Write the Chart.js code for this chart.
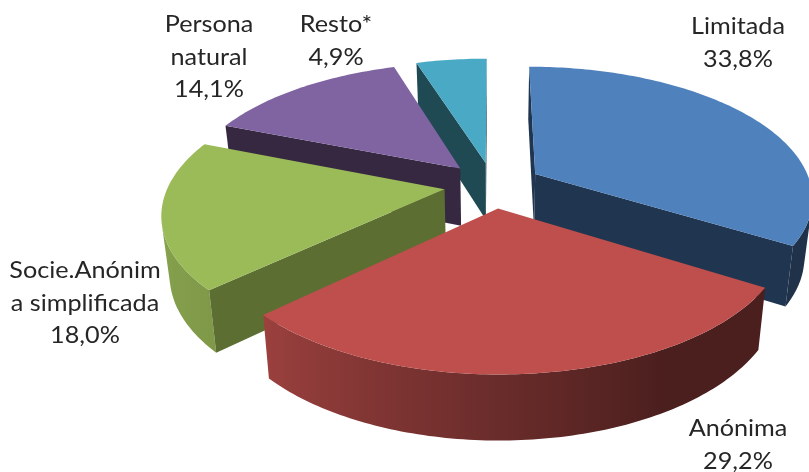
<!DOCTYPE html>
<html>
<head>
<meta charset="utf-8">
<style>html,body{margin:0;padding:0;background:#fff;overflow:hidden}canvas{display:block}</style>
<script src="https://cdn.jsdelivr.net/npm/chart.js@4"></script>
</head>
<body>
<canvas id="c" width="809" height="472"></canvas>
<script>
const categories = ['Limitada', 'Anónima', 'Socie.Anónima simplificada', 'Persona natural', 'Resto*'];
const labelLines = [['Limitada'], ['Anónima'], ['Socie.Anónim', 'a simplificada'], ['Persona', 'natural'], ['Resto*']];
const values = [33.8, 29.2, 18.0, 14.1, 4.9];
const topColors = ['#4F81BD', '#BE4F4C', '#9BBB59', '#8064A2', '#4AAAC5'];
const sideColors = ['#1F3550', '#4B1E1C', '#5D6E33', '#352840', '#1F4A54'];
const drawOrder = [4, 3, 0, 2, 1];

const labelAnchors = [[738, 34], [738, 436], [85, 278], [209, 32], [336, 32]];
const view = {cx: 493, cy: 185, radius: 276, tilt: 0.467, persp: 0.000614, lineH: 32.5};

function hexRgb(h){return [1,3,5].map(i=>parseInt(h.substr(i,2),16));}
function shadeFor(deg){
  if (deg <= 150) return 0.39;
  if (deg <= 227) return 0.39 + 0.43 * (deg - 150) / 77;
  if (deg <= 270) return 0.82 + 0.08 * (deg - 227) / 43;
  return 0.9;
}
function area(p){let s=0;for(let i=0;i<p.length;i++){const a=p[i],b=p[(i+1)%p.length];s+=a[0]*b[1]-b[0]*a[1];}return s;}
function poly(ctx,p,color){
  ctx.beginPath();p.forEach((q,i)=>i?ctx.lineTo(q[0],q[1]):ctx.moveTo(q[0],q[1]));ctx.closePath();
  ctx.fillStyle=color;ctx.fill();
}

const pie3d = {
  id: 'pie3d',
  beforeDatasetsDraw(chart){
    const ctx = chart.ctx;
    const arcs = chart.getDatasetMeta(0).data;
    const project = (u,v)=>{const w=1/(1-view.persp*v);return [view.cx+u*w, view.cy+view.tilt*v*w];};
    const drop = q=>[view.cx+(q[0]-view.cx)*0.975, q[1]+57+(q[1]-168)*0.044];
    ctx.save();
    drawOrder.forEach(i=>{
      const el = arcs[i];
      const scale = view.radius/el.outerRadius;
      const off = el.options.offset*scale;
      const mid = (el.startAngle+el.endAngle)/2;
      const ox = off*Math.cos(mid), oy = off*Math.sin(mid);
      const rim = a=>project(ox+view.radius*Math.cos(a), oy+view.radius*Math.sin(a));
      const apex = project(ox,oy);
      const n = Math.ceil((el.endAngle-el.startAngle)*180/Math.PI);
      const pts=[];
      for(let j=0;j<=n;j++) pts.push(el.startAngle+(el.endAngle-el.startAngle)*j/n);
      const rgb = hexRgb(el.options.backgroundColor);
      // contiguous front-facing part of the outer wall, as one gradient-filled shape
      const run=[];
      for(let j=0;j<n;j++){
        const A=rim(pts[j]),B=rim(pts[j+1]);
        if(area([A,B,drop(B),drop(A)])<0){
          if(!run.length) run.push(pts[j]);
          run.push(pts[j+1]);
        }
      }
      if(run.length>1){
        const tops=run.map(rim), bots=tops.map(drop);
        const xs=tops.concat(bots).map(q=>q[0]);
        const x0=Math.min(...xs), x1=Math.max(...xs);
        const grad=ctx.createLinearGradient(x0,0,x1,0);
        const stops=run.map((a,j)=>({x:(tops[j][0]-x0)/(x1-x0),deg:(a+Math.PI/2)*180/Math.PI}))
          .sort((p,q)=>p.x-q.x);
        stops.forEach(s=>grad.addColorStop(s.x,`rgb(${rgb.map(c=>Math.round(c*shadeFor(s.deg))).join(',')})`));
        poly(ctx,tops.concat(bots.reverse()),grad);
      }
      const S=rim(el.startAngle),E=rim(el.endAngle);
      const ws=[apex,S,drop(S),drop(apex)];
      if(area(ws)<0) poly(ctx,ws,sideColors[i]);
      const we=[apex,E,drop(E),drop(apex)];
      if(area(we)>0) poly(ctx,we,sideColors[i]);
      poly(ctx,[apex].concat(pts.map(rim)),el.options.backgroundColor);
    });
    ctx.restore();
    return false;
  },
  afterDraw(chart){
    const ctx = chart.ctx;
    ctx.save();
    ctx.font = '22.5px Lato, Carlito, sans-serif';
    ctx.fillStyle = '#262626';
    ctx.textAlign = 'center';
    ctx.textBaseline = 'alphabetic';
    labelLines.forEach((ls,i)=>{
      const all = ls.concat([values[i].toFixed(1).replace('.',',')+'%']);
      all.forEach((t,j)=>{
        ctx.save();
        ctx.translate(labelAnchors[i][0],labelAnchors[i][1]+j*view.lineH);
        ctx.scale(1.12,1);
        ctx.fillText(t,0,0);
        ctx.restore();
      });
    });
    ctx.restore();
  }
};

new Chart(document.getElementById('c'), {
  type: 'pie',
  data: {labels: categories, datasets: [{data: values, backgroundColor: topColors, borderWidth: 0, offset: 38.5}]},
  options: {
    responsive: false, animation: false,
    plugins: {legend: {display: false}, tooltip: {enabled: false}}
  },
  plugins: [pie3d]
});
</script>
</body>
</html>
